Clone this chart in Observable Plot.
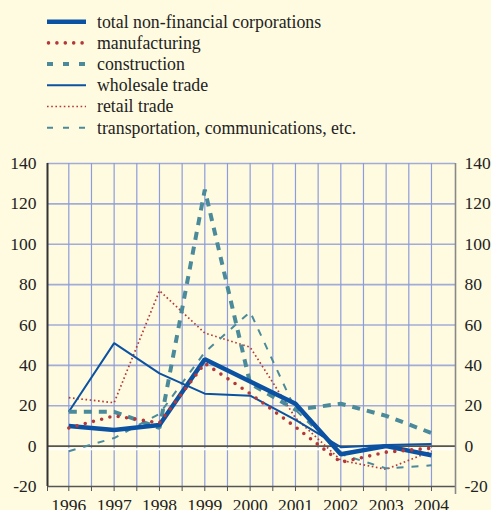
<!DOCTYPE html>
<html>
<head>
<meta charset="utf-8">
<script src="https://cdn.jsdelivr.net/npm/d3@7"></script>
<script src="https://cdn.jsdelivr.net/npm/@observablehq/plot@0.6"></script>
<style>
  html, body { margin: 0; padding: 0; background: #fffbe0; }
  body { width: 491px; height: 510px; overflow: hidden; font-family: "Liberation Serif", serif; }
  #legend { height: 145px; position: relative; }
  #chart svg { display: block; }
</style>
</head>
<body>
<div id="legend"></div>
<div id="chart"></div>
<script>
const years = [1996, 1997, 1998, 1999, 2000, 2001, 2002, 2003, 2004];
const total = [10, 8, 10.5, 43, 32, 21, -4, 0, -4.5];
const manufacturing = [9, 15, 11.5, 41, 26, 9.5, -8, -3, -1];
const construction = [17, 17, 9, 127, 31, 18, 21, 15, 6.5];
const wholesale = [17, 51, 36, 26, 25, 13, -0.5, 0.5, 1];
const retail = [24, 21.5, 77, 56, 49, 14, -7, -11.5, -2.5];
const transport = [-2.5, 4, 16, 46.5, 66.5, 18, -4, -11, -9.5];
const seriesNames = ["total non-financial corporations", "manufacturing", "construction",
  "wholesale trade", "retail trade", "transportation, communications, etc."];
const yTicks = [-20, 0, 20, 40, 60, 80, 100, 120, 140];
const halfYears = d3.range(1996, 2004.01, 0.5);

const FONT = "'Liberation Serif', 'Times New Roman', serif";
const BLUE = "#0b52a2", RED = "#b3383a", TEAL = "#4a8a9a";
const styles = [
  {stroke: BLUE, strokeWidth: 4.5, dash: null, cap: "butt"},
  {stroke: RED, strokeWidth: 3.6, dash: "0 8.5", cap: "round"},
  {stroke: TEAL, strokeWidth: 4, dash: "8 7", cap: "butt"},
  {stroke: BLUE, strokeWidth: 2, dash: null, cap: "butt"},
  {stroke: RED, strokeWidth: 1.7, dash: "1.6 2.6", cap: "butt"},
  {stroke: TEAL, strokeWidth: 2, dash: "7 8", cap: "butt"}
];
const values = [total, manufacturing, construction, wholesale, retail, transport];
const data = values.map((vals, i) => years.map((y, j) => ({year: y, value: vals[j], s: i})));

// Legend
const lg = d3.select("#legend").append("svg").attr("width", 491).attr("height", 145);
seriesNames.forEach((name, i) => {
  const cy = 21.7 + i * 21.2;
  const st = styles[i];
  lg.append("line").attr("x1", 47).attr("x2", 86).attr("y1", cy).attr("y2", cy)
    .attr("stroke", st.stroke).attr("stroke-width", st.strokeWidth)
    .attr("stroke-dasharray", i === 1 ? "0 8.4" : (i === 2 || i === 5) ? "6 10" : st.dash)
    .attr("stroke-linecap", st.cap)
    .attr("transform", i === 1 ? "translate(1.5,0)" : null);
  lg.append("text").attr("x", 97).attr("y", cy).attr("dy", "0.33em")
    .style("font-family", FONT).style("font-size", "17.8px")
    .attr("fill", "#222").text(name);
});

function line(i) {
  const st = styles[i];
  return Plot.line(data[i], {x: "year", y: "value", stroke: st.stroke, strokeWidth: st.strokeWidth,
    strokeDasharray: st.dash, strokeLinecap: st.cap, strokeLinejoin: "miter"});
}

const chart = Plot.plot({
  width: 491,
  height: 365,
  marginTop: 18,
  marginBottom: 24,
  marginLeft: 47,
  marginRight: 36,
  style: {background: "transparent", fontFamily: FONT, fontSize: "17.5px", color: "#222"},
  x: {domain: [1995.53, 2004.53], axis: null, label: null},
  y: {domain: [-20, 140], axis: null, label: null},
  marks: [
    Plot.ruleY(yTicks.filter(d => d !== 0 && d !== -20), {stroke: "#a2acd6", strokeWidth: 1.7}),
    Plot.ruleX(halfYears, {stroke: "#8d9cdb", strokeWidth: 1.2}),
    Plot.ruleY([0], {stroke: "#fff", strokeWidth: 2, dy: 3}),
    Plot.ruleY([0], {stroke: "#555", strokeWidth: 1.6}),
    Plot.ruleY([-20], {stroke: "#555", strokeWidth: 1.4}),
    Plot.axisX({ticks: [1995.53, ...halfYears], tickSize: 5, tickFormat: () => "", stroke: "#555", label: null}),
    Plot.axisX({ticks: years, tickSize: 0, tickPadding: 12, tickFormat: d => String(d), fill: "#222", label: null}),
    Plot.axisY({anchor: "left", ticks: yTicks, tickSize: 0, tickPadding: 11, tickFormat: d => String(d), fill: "#222", label: null}),
    Plot.axisY({anchor: "right", ticks: yTicks, tickSize: 0, tickPadding: 9, tickFormat: d => String(d), fill: "#222", label: null}),
    Plot.ruleX([1995.53], {stroke: "#333", strokeWidth: 2}),
    Plot.ruleX([2004.53], {stroke: "#888", strokeWidth: 1.6, insetBottom: -8}),
    line(4), line(5), line(3), line(2), line(0), line(1)
  ]
});
document.getElementById("chart").appendChild(chart);
</script>
</body>
</html>
